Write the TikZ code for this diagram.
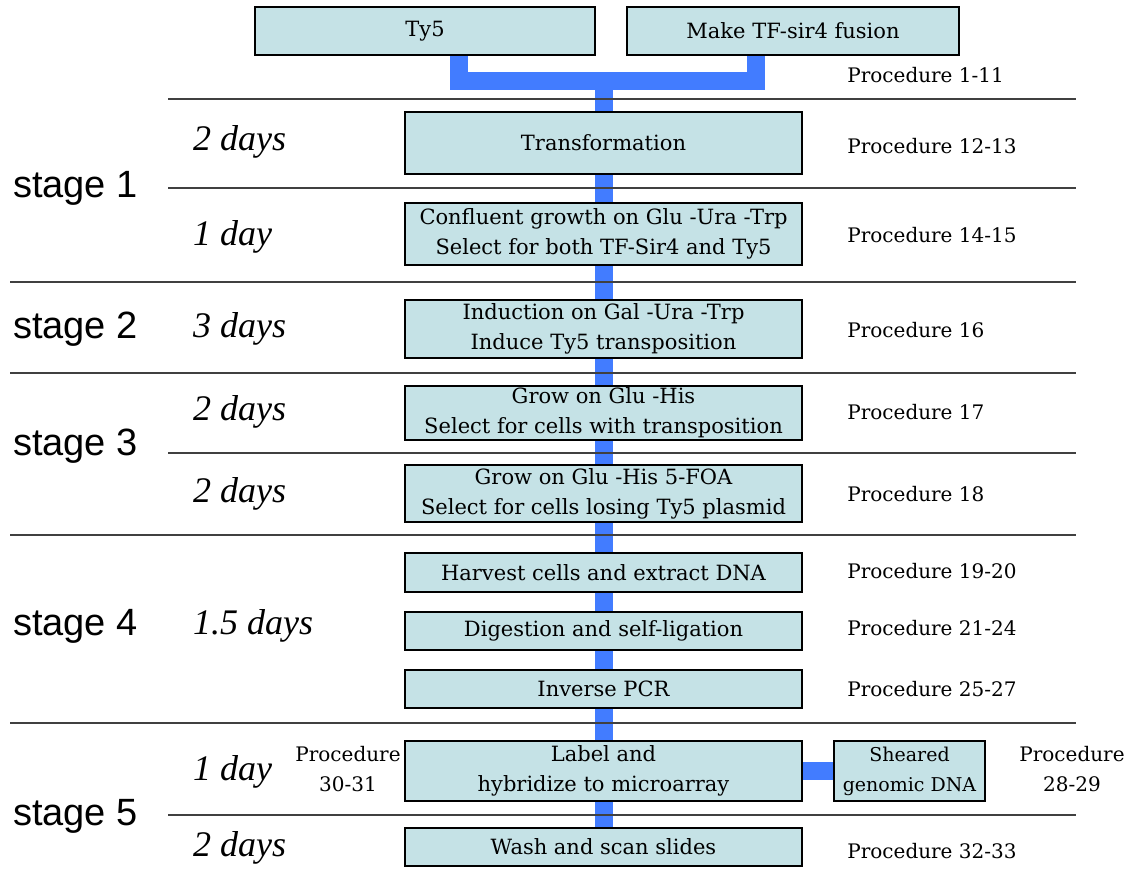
\documentclass[tikz,border=0pt]{standalone}
\usepackage{fontspec}
\setmainfont{DejaVu Serif}
\newfontfamily\dayfont{Liberation Serif}
\newfontfamily\stagefont{Liberation Sans}
\usetikzlibrary{positioning,backgrounds}
\definecolor{boxfill}{RGB}{197,226,230}
\definecolor{linkblue}{RGB}{66,124,255}

\tikzset{
  stepbox/.style={draw=black, fill=boxfill, line width=0.6pt, minimum width=198.5pt,
    minimum height=#1, align=center, inner sep=0pt, font=\fontsize{10.5}{15}\selectfont},
  link/.style={draw=linkblue, line width=9pt},
  rule/.style={draw=black!75, line width=0.8pt},
  days/.style={anchor=west, font=\dayfont\itshape\fontsize{18}{20}\selectfont},
  stagelabel/.style={anchor=west, font=\stagefont\fontsize{19}{22}\selectfont},
  proc/.style={anchor=west, inner sep=0pt, font=\fontsize{10}{15}\selectfont},
}

\begin{document}
\begin{tikzpicture}[x=0.5pt,y=-0.5pt]
  \useasboundingbox (0,0) rectangle (1137,869);

  % separating rules
  \foreach \y/\xs in {99/168,188/168,282/10,373/10,453/168,535/10,723/10,815/168}
    \draw[rule] (\xs,\y) -- (1076,\y);

  % steps
  \node[stepbox=24pt, minimum width=170pt] (ty5) at (425,31) {Ty5};
  \node[stepbox=24pt, minimum width=166pt] (fusion) at (793,31) {Make TF-sir4 fusion};
  \node[stepbox=31pt] (transf) at (603.5,143) {Transformation};
  \node[stepbox=31pt] (confl) at (603.5,234) {Confluent growth on Glu -Ura -Trp\\Select for both TF-Sir4 and Ty5};
  \node[stepbox=29pt] (induc) at (603.5,329) {Induction on Gal -Ura -Trp\\Induce Ty5 transposition};
  \node[stepbox=27pt] (his) at (603.5,413) {Grow on Glu -His\\Select for cells with transposition};
  \node[stepbox=28.5pt] (foa) at (603.5,493.5) {Grow on Glu -His 5-FOA\\Select for cells losing Ty5 plasmid};
  \node[stepbox=19.5pt] (harvest) at (603.5,572.5) {Harvest cells and extract DNA};
  \node[stepbox=19pt] (digest) at (603.5,631) {Digestion and self-ligation};
  \node[stepbox=19pt] (pcr) at (603.5,689) {Inverse PCR};
  \node[stepbox=30pt] (label) at (603.5,771) {Label and\\hybridize to microarray};
  \node[stepbox=30pt, minimum width=75.5pt, font=\fontsize{9.5}{15}\selectfont] (sheared) at (909.5,771) {Sheared\\genomic DNA};
  \node[stepbox=19pt] (wash) at (603.5,847) {Wash and scan slides};

  % blue connectors
  \coordinate (jl) at (459,81);
  \coordinate (jr) at (756,81);
  \coordinate (jc) at (603.5,81);
  \begin{scope}[on background layer]
    \draw[link] (jl |- ty5.south) -- (jl) -- (jr) -- (jr |- fusion.south);
    \draw[link] (jc) -- (wash.north);
    \draw[link] (label) -- (sheared);
  \end{scope}

  % durations
  \node[days] (d1) at (186,142) {2 days};
  \node[days] (d2) at (186,237) {1 day};
  \node[days] (d3) at (186,329) {3 days};
  \node[days] (d4) at (186,412) {2 days};
  \node[days] (d5) at (186,494) {2 days};
  \node[days] (d6) at (186,626) {1.5 days};
  \node[days] (d7) at (186,772) {1 day};
  \node[days] (d8) at (186,848) {2 days};

  % stages
  \node[stagelabel] (s1) at (6,188) {stage 1};
  \node[stagelabel] (s2) at (6,329) {stage 2};
  \node[stagelabel] (s3) at (6,446) {stage 3};
  \node[stagelabel] (s4) at (6,626) {stage 4};
  \node[stagelabel] (s5) at (6,816) {stage 5};

  % procedures
  \node[proc] (p1) at (847,75) {Procedure 1-11};
  \node[proc] (p2) at (847,146) {Procedure 12-13};
  \node[proc] (p3) at (847,235) {Procedure 14-15};
  \node[proc] (p4) at (847,330) {Procedure 16};
  \node[proc] (p5) at (847,412) {Procedure 17};
  \node[proc] (p6) at (847,494) {Procedure 18};
  \node[proc] (p7) at (847,571) {Procedure 19-20};
  \node[proc] (p8) at (847,628) {Procedure 21-24};
  \node[proc] (p9) at (847,689) {Procedure 25-27};
  \node[proc] (p12) at (847,851) {Procedure 32-33};
  \node[proc, anchor=center, align=center] (p10) at (348,769) {Procedure\\30-31};
  \node[proc, anchor=center, align=center] (p11) at (1072,769) {Procedure\\28-29};
\end{tikzpicture}
\end{document}
